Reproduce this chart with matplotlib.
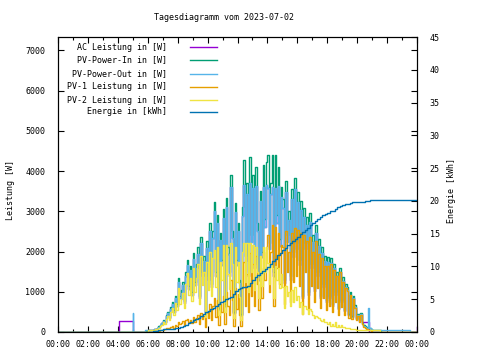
import numpy as np
import matplotlib
matplotlib.use("Agg")
import matplotlib.pyplot as plt

# 6-minute samples from 06:00 to 20:54 (10 per row = 1 hour)
pv_in = [
    50, 55, 60, 60, 70, 80, 100, 140, 180, 230,            # 06
    300, 260, 420, 500, 380, 620, 750, 540, 900, 700,      # 07
    1340, 900, 1040, 1250, 780, 1500, 1800, 1150, 1650, 1000,
    1960, 1250, 1700, 2100, 900, 2370, 1500, 1900, 500, 2250,
    1400, 2700, 1200, 2500, 3230, 1500, 2900, 600, 2450, 1800,   # 10
    3050, 700, 3330, 2100, 1500, 3900, 2500, 500, 3200, 1800,
    2700, 1300, 450, 3100, 4270, 1900, 3700, 1500, 4350, 2400,
    3900, 1700, 4100, 2700, 1400, 3500, 2000, 4150, 2800, 4220,
    4400, 2200, 3700, 4400, 1500, 4400, 2900, 4100, 2300, 3600,  # 14
    3300, 1300, 3750, 2400, 3000, 1400, 3550, 2000, 3830, 2200,
    3480, 1800, 3250, 900, 3080, 2200, 2850, 1000, 2950, 1700,
    2410, 1100, 2650, 1500, 2300, 900, 2110, 1200, 1900, 800,
    1860, 900, 1840, 700, 1700, 1000, 1500, 600, 1600, 800,      # 18
    1370, 550, 1200, 1120, 450, 1000, 400, 900, 670, 350,
    450, 300, 470, 230, 170, 140, 120, 110, 100, 80,
]
pv_out = [
    50, 55, 60, 60, 65, 75, 95, 130, 170, 215,
    280, 240, 390, 465, 355, 575, 700, 500, 840, 650,
    1250, 840, 970, 1160, 725, 1400, 1670, 1070, 1530, 930,
    1820, 1160, 1580, 1950, 840, 2200, 1400, 1770, 460, 2090,
    1300, 2510, 1120, 2330, 3000, 1400, 2700, 560, 2280, 1670,
    2840, 650, 3100, 1950, 1400, 3600, 2330, 460, 2980, 1670,
    2510, 1210, 420, 2880, 3650, 1770, 3440, 1400, 3700, 2230,
    3580, 1580, 3620, 2510, 1300, 3260, 1860, 3600, 2600, 3650,
    3580, 2050, 3440, 3600, 1400, 3570, 2700, 3620, 2140, 3350,
    3070, 1210, 3490, 2230, 2790, 1300, 3300, 1860, 3560, 2050,
    3240, 1670, 3020, 840, 2860, 2050, 2650, 930, 2740, 1580,
    2240, 1020, 2460, 1400, 2140, 840, 1960, 1120, 1770, 740,
    1730, 840, 1710, 650, 1580, 930, 1400, 560, 1490, 740,
    1270, 510, 1120, 1040, 420, 930, 370, 840, 620, 330,
    420, 280, 440, 210, 160, 130, 110, 600, 90, 70,
]
ac_power = [
    50, 55, 60, 60, 65, 75, 95, 130, 170, 215,
    280, 240, 390, 465, 355, 575, 700, 500, 840, 650,
    1250, 840, 970, 1160, 725, 1400, 1670, 1070, 1530, 930,
    1820, 1160, 1580, 1950, 840, 2200, 1400, 1770, 460, 2090,
    1300, 2510, 1120, 2330, 3000, 1400, 2700, 560, 2280, 1670,
    2840, 650, 3100, 1950, 1400, 3600, 2330, 460, 2980, 1670,
    2510, 1210, 420, 2880, 3650, 1770, 3440, 1400, 3700, 2230,
    3580, 1580, 3620, 2510, 1300, 3260, 1860, 3600, 2600, 3650,
    3580, 2050, 3440, 3600, 1400, 3570, 2700, 3620, 2140, 3350,
    3070, 1210, 3490, 2230, 2790, 1300, 3300, 1860, 3560, 2050,
    3240, 1670, 3020, 840, 2860, 2050, 2650, 930, 2740, 1580,
    2240, 1020, 2460, 1400, 2140, 840, 1960, 1120, 1770, 740,
    1730, 840, 1710, 650, 1580, 930, 1400, 560, 1490, 740,
    1270, 510, 1120, 1040, 420, 930, 370, 840, 620, 330,
    420, 280, 440, 250, 250, 250, 250, 250, 0, 0,
]
pv1 = [
    0, 0, 5, 5, 10, 10, 20, 30, 40, 50,
    60, 70, 90, 100, 90, 120, 150, 110, 180, 160,
    250, 200, 230, 270, 180, 300, 330, 240, 310, 220,
    380, 260, 350, 420, 200, 480, 320, 400, 120, 500,
    350, 700, 300, 650, 850, 380, 800, 180, 700, 500,
    900, 200, 1000, 650, 420, 1300, 800, 150, 1100, 560,
    950, 420, 150, 1100, 1750, 650, 1450, 500, 1960, 900,
    1700, 650, 1900, 1200, 550, 1600, 850, 2000, 1300, 2100,
    2400, 1000, 2000, 2660, 650, 2600, 1600, 2450, 1200, 2150,
    2100, 700, 2500, 1500, 2000, 750, 2450, 1250, 2580, 1400,
    2530, 1150, 2450, 450, 2400, 1500, 2250, 550, 2350, 1150,
    2000, 750, 2250, 1100, 1950, 600, 1850, 850, 1650, 550,
    1650, 650, 1700, 500, 1550, 750, 1380, 420, 1480, 620,
    1250, 420, 1100, 1030, 350, 920, 320, 830, 600, 300,
    400, 260, 420, 190, 130, 100, 80, 60, 40, 20,
]
pv2 = [
    50, 55, 55, 55, 60, 70, 80, 110, 140, 180,
    240, 190, 330, 400, 290, 500, 600, 430, 720, 540,
    1090, 700, 810, 980, 600, 1200, 1470, 910, 1340, 780,
    1580, 990, 1350, 1680, 700, 1890, 1180, 1500, 380, 1750,
    1050, 2000, 900, 1850, 2040, 1120, 2100, 420, 1750, 1300,
    2150, 500, 2160, 1450, 1080, 2200, 1700, 350, 2100, 1240,
    1750, 880, 300, 2000, 2200, 1250, 2200, 1000, 2200, 1500,
    2150, 1050, 2100, 1500, 850, 1900, 1150, 2100, 1500, 2100,
    1710, 1200, 1700, 1600, 850, 1650, 1300, 1600, 1100, 1450,
    1120, 600, 1150, 900, 1000, 650, 1050, 750, 1120, 800,
    900, 620, 750, 450, 650, 650, 580, 450, 580, 520,
    420, 350, 400, 380, 350, 300, 280, 330, 250, 250,
    210, 250, 150, 200, 150, 250, 130, 180, 120, 180,
    120, 130, 100, 90, 100, 80, 80, 70, 70, 50,
    50, 40, 50, 40, 40, 40, 40, 50, 60, 60,
]

# night / edge parts (hour, value)
ac_pre_h, ac_pre = [0.0, 4.07, 4.08, 4.99, 5.0, 5.9], [0, 0, 270, 270, 0, 0]
ac_post_h, ac_post = [21.0, 23.9, 24.0], [0, 0, 120]
out_pre_h, out_pre = [0.0, 4.97, 5.0, 5.03, 5.75, 5.8, 5.9], [0, 0, 470, 0, 0, 60, 50]
out_post_h, out_post = [21.0, 21.1, 23.4, 23.5, 24.0], [60, 40, 40, 0, 0]
in_pre_h, in_pre = [0.0, 5.8, 5.9], [0, 0, 20]
in_post_h, in_post = [21.0, 21.3, 21.6, 24.0], [60, 40, 0, 0]
pv1_pre_h, pv1_pre = [0.0, 5.9], [0, 0]
pv1_post_h, pv1_post = [21.0, 21.4, 24.0], [10, 0, 0]
pv2_pre_h, pv2_pre = [0.0, 5.9], [0, 0]
pv2_post_h, pv2_post = [21.0, 21.5, 24.0], [50, 0, 0]

# energy in kWh, every 10 minutes from 06:00 to 21:00
energy = [
    0.0, 0.0, 0.1, 0.2, 0.3, 0.3,
    0.4, 0.4, 0.4, 0.5, 0.5, 0.6,
    0.6, 0.8, 0.9, 1.0, 1.3, 1.5,
    1.8, 2.0, 2.2, 2.5, 2.7, 3.0,
    3.2, 3.5, 3.7, 4.0, 4.3, 4.5,
    4.8, 5.0, 5.2, 5.3, 5.8, 6.2,
    6.6, 6.7, 6.8, 6.9, 7.0, 7.5,
    8.0, 8.4, 8.7, 9.0, 9.3, 9.6,
    9.9, 10.3, 10.8, 11.2, 11.7, 12.1,
    12.5, 12.8, 13.2, 13.5, 13.9, 14.2,
    14.5, 14.9, 15.2, 15.6, 15.9, 16.3,
    16.6, 16.9, 17.2, 17.5, 17.8, 18.0,
    18.2, 18.4, 18.5, 18.8, 19.0, 19.2,
    19.4, 19.5, 19.6, 19.7, 19.8, 19.8,
    19.9, 19.9, 19.9, 20.0, 20.0, 20.1,
    20.1,
]

tick_labels = ["00:00", "02:00", "04:00", "06:00", "08:00", "10:00", "12:00",
               "14:00", "16:00", "18:00", "20:00", "22:00", "00:00"]
legend_labels = ["AC Leistung in [W]", "PV-Power-In in [W]", "PV-Power-Out in [W]",
                 "PV-1 Leistung in [W]", "PV-2 Leistung in [W]", "Energie in [kWh]"]

plt.rcParams['font.family'] = 'DejaVu Sans Mono'
plt.rcParams['font.size'] = 6

day_h = 6.0 + np.arange(len(pv_in)) * 0.1
energy_h = 6.0 + np.arange(len(energy)) / 6.0


def full(pre_h, pre, vals, post_h, post):
    return np.concatenate([pre_h, day_h, post_h]), np.concatenate([pre, vals, post])


fig = plt.figure(figsize=(4.8, 3.6), dpi=100)
ax = fig.add_axes([0.1208, 0.0778, 0.748, 0.8194])
ax2 = ax.twinx()

lw = 1.0
st = 'steps-post'  # gives the spiky bar look of the original
lines = []
lines += ax.plot(*full(ac_pre_h, ac_pre, ac_power, ac_post_h, ac_post), color='#9400d3', lw=lw, drawstyle=st)
lines += ax.plot(*full(in_pre_h, in_pre, pv_in, in_post_h, in_post), color='#009e73', lw=lw, drawstyle=st)
lines += ax.plot(*full(out_pre_h, out_pre, pv_out, out_post_h, out_post), color='#56b4e9', lw=lw, drawstyle=st)
lines += ax.plot(*full(pv1_pre_h, pv1_pre, pv1, pv1_post_h, pv1_post), color='#e69f00', lw=lw, drawstyle=st)
lines += ax.plot(*full(pv2_pre_h, pv2_pre, pv2, pv2_post_h, pv2_post), color='#f0e442', lw=lw, drawstyle=st)
eh = np.concatenate([[0.0, 5.9], energy_h, [24.0]])
ev = np.concatenate([[0.0, 0.0], energy, [energy[-1]]])
lines += ax2.plot(eh, ev, color='#0072b2', lw=lw, drawstyle='steps-post')

ax.set_xlim(0, 24)
ax.set_ylim(0, 7330)
ax2.set_ylim(0, 45)
ax.set_xticks(np.arange(0, 25, 2))
ax.set_xticks(np.arange(1, 24, 2), minor=True)
ax.set_xticklabels(tick_labels)
ax.set_yticks(np.arange(0, 7001, 1000))
ax2.set_yticks(np.arange(0, 46, 5))

ax.tick_params(axis='both', which='major', direction='in', length=4, width=0.8, pad=9)
ax.tick_params(axis='x', which='major', pad=6, top=True)
ax.tick_params(axis='x', which='minor', direction='in', length=2, width=0.8, top=True)
ax.tick_params(axis='y', right=True)
ax2.tick_params(axis='y', direction='in', length=4, width=0.8, pad=9)
for a in (ax, ax2):
    for s in a.spines.values():
        s.set_linewidth(0.8)

fig.text(0.467, 0.95, "Tagesdiagramm vom 2023-07-02", ha='center', va='center')
fig.text(0.021, 0.472, "Leistung [W]", rotation=90, ha='center', va='center')
fig.text(0.94, 0.472, "Energie [kWh]", rotation=90, ha='center', va='center')

# legend, gnuplot style: right aligned text, sample line to the right
rows = [0.966, 0.922, 0.875, 0.831, 0.786, 0.746]
for y, lab, ln in zip(rows, legend_labels, lines):
    ax2.text(0.304, y, lab, transform=ax2.transAxes, ha='right', va='center')
    ax2.plot([0.368, 0.443], [y, y], transform=ax2.transAxes, color=ln.get_color(), lw=lw)

ax2.set_ylim(0, 45)
fig.savefig("out.png", dpi=100)
